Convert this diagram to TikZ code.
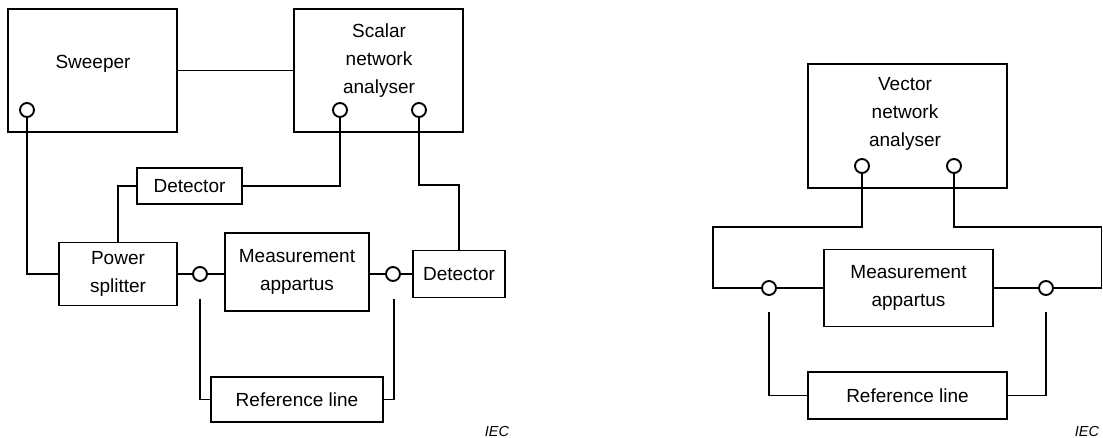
\documentclass[tikz,border=0pt]{standalone}
\usepackage{fontspec}
\setmainfont{Liberation Sans}
\usetikzlibrary{positioning,calc}

\begin{document}
\begin{tikzpicture}[x=1pt,y=-1pt,line width=1.9pt,
 font=\fontsize{19}{28}\selectfont,
 box/.style={draw,inner sep=0pt,align=center},
 port/.style={draw,circle,fill=white,inner sep=0pt,minimum size=14pt},
 iec/.style={font=\fontsize{14.5}{16}\selectfont\itshape}]
\useasboundingbox (0,0) rectangle (1103,438);
% --- scalar set-up (left)
\node[box,minimum width=169,minimum height=123] (sweep) at (92.5,70.5) {};
\node at (93,64) {Sweeper};
\node[box,minimum width=169,minimum height=123] (sna) at (378.5,70.5) {};
\node[align=center] at (379,61) {Scalar\\network\\analyser};
\node[port] (pa) at (27,110) {};
\node[port] (pb) at (340,110) {};
\node[port] (pc) at (419,110) {};
\node[box,minimum width=105,minimum height=36] (det1) at (189.5,186) {Detector};
\node[box,minimum width=118,minimum height=63] (ps) at (118,274) {Power\\splitter};
\node[box,minimum width=144,minimum height=78] (ma) at (297,272) {Measurement\\appartus};
\node[box,minimum width=92,minimum height=47] (det2) at (459,274) {Detector};
\node[box,minimum width=172,minimum height=45] (ref) at (297,399.5) {Reference line};
\node[port] (c1) at (200,274) {};
\node[port] (c2) at (393,274) {};
\coordinate (r1) at (200,299);
\coordinate (r2) at (394,299);
\draw (sweep) -- (sna);
\draw (pa.south) |- (ps.west);
\draw (pb.south) |- (det1.east);
\draw (det1.west) -| (ps.north);
\draw (pc.south) -- ++(0,67) -| (det2.north);
\draw (ps.east) -- (c1) -- (c1 -| ma.west);
\draw (c2 -| ma.east) -- (c2) -- (det2.west);
\draw (r1) |- (ref.west);
\draw (r2) |- (ref.east);
\node[iec] (iec1) at (497,432) {IEC};
% --- vector set-up (right)
\node[box,minimum width=199,minimum height=124] (vna) at (907.5,126) {};
\node[align=center] at (905,114) {Vector\\network\\analyser};
\node[port] (pd) at (862,166) {};
\node[port] (pe) at (954,166) {};
\node[box,minimum width=169,minimum height=77] (mb) at (908.5,288) {Measurement\\appartus};
\node[box,minimum width=199,minimum height=47] (refb) at (907.5,395.5) {Reference line};
\node[port] (c3) at (769,288) {};
\node[port] (c4) at (1046,288) {};
\coordinate (k1) at (713,227);
\coordinate (k2) at (1101.5,227);
\coordinate (r3) at (769,312);
\coordinate (r4) at (1046,312);
\draw (pd.south) |- (k1) |- (c3.west);
\draw (pe.south) |- (k2) |- (c4.east);
\draw (c3) -- (mb.west);
\draw (mb.east) -- (c4);
\draw (r3) |- (refb.west);
\draw (r4) |- (refb.east);
\node[iec] (iec2) at (1087,432) {IEC};
\end{tikzpicture}
\end{document}
